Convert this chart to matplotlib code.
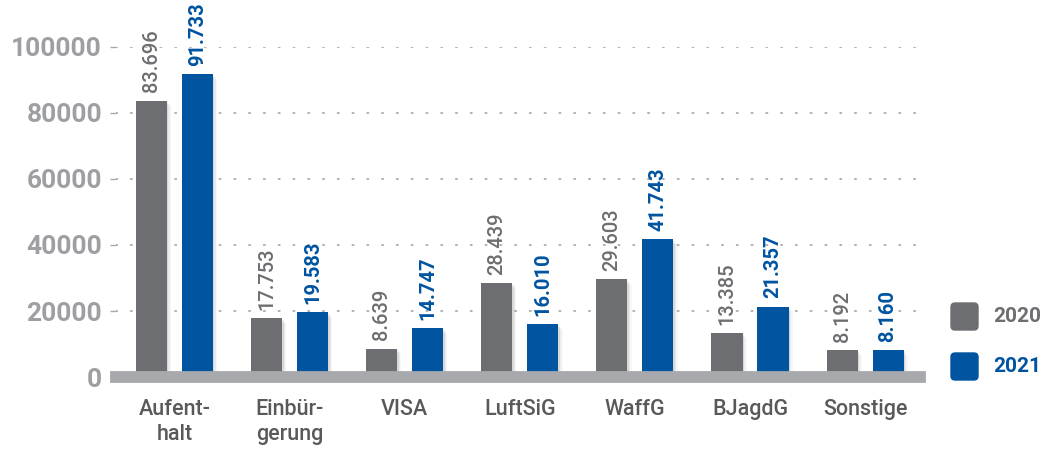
import numpy as np
import matplotlib.pyplot as plt
from matplotlib.patches import FancyBboxPatch, Rectangle

plt.rcParams['font.family'] = ['Roboto', 'DejaVu Sans']

categories = ['Aufent-\nhalt', 'Einbür-\ngerung', 'VISA', 'LuftSiG', 'WaffG', 'BJagdG', 'Sonstige']
values_2020 = [83696, 17753, 8639, 28439, 29603, 13385, 8192]
values_2021 = [91733, 19583, 14747, 16010, 41743, 21357, 8160]
labels_2020 = ['83.696', '17.753', '8.639', '28.439', '29.603', '13.385', '8.192']
labels_2021 = ['91.733', '19.583', '14.747', '16.010', '41.743', '21.357', '8.160']
yticks = [0, 20000, 40000, 60000, 80000, 100000]

gray = '#6d6e71'
blue = '#0054a0'
axis_gray = '#a7a9ac'

fig = plt.figure(figsize=(10.53, 4.51), dpi=100)
ax = fig.add_axes([0.110, 0.164, 0.764, 0.732])

x = np.arange(len(categories))
off = 0.2
w = 0.27

def shadow(ax, xs, heights):
    # faint shadow along the right side of each bar
    for xi, h in zip(xs, heights):
        for k, a in enumerate([0.07, 0.05, 0.03]):
            d = 0.012 * (k + 1)
            ax.add_patch(Rectangle((xi - w / 2 + d, 0), w, h - 500 * (k + 1),
                                   color='black', alpha=a, lw=0, zorder=1))

shadow(ax, x - off, values_2020)
shadow(ax, x + off, values_2021)
ax.bar(x - off, values_2020, w, color=gray, zorder=3)
ax.bar(x + off, values_2021, w, color=blue, zorder=3)

for xi, v, s in zip(x - off, values_2020, labels_2020):
    ax.annotate(s, (xi, v), xytext=(0, 6), textcoords='offset points',
                rotation=90, ha='center', va='bottom', fontsize=14.5,
                color=gray, fontweight='medium', annotation_clip=False)
for xi, v, s in zip(x + off, values_2021, labels_2021):
    ax.annotate(s, (xi, v), xytext=(0, 6), textcoords='offset points',
                rotation=90, ha='center', va='bottom', fontsize=14.5,
                color=blue, fontweight='bold', annotation_clip=False)

ax.set_xlim(-0.51, 6.48)
ax.set_ylim(0, 100000)
for yv in yticks[1:]:
    ax.axhline(yv, color='#b0b0b0', lw=1.4, ls=(0, (0.6, 7)), zorder=0,
               dash_capstyle='round')
ax.axhline(0, color=axis_gray, lw=8.5, zorder=4, clip_on=False)

ax.set_yticks(yticks)
ax.set_yticklabels([str(t) for t in yticks], fontsize=19, fontweight='bold',
                   color='#9d9fa2')
ax.tick_params(axis='y', length=4, width=1, color=axis_gray, pad=6)
ax.set_xticks(x)
ax.set_xticklabels(categories, fontsize=15.5, color='#58595b',
                   fontweight='medium', linespacing=1.25)
ax.tick_params(axis='x', length=0, pad=16)
for sp in ax.spines.values():
    sp.set_visible(False)

# legend boxes
for i, (lab, c) in enumerate([('2020', gray), ('2021', blue)]):
    yb = 451 - 330 - i * 50
    fig.add_artist(FancyBboxPatch((951, yb), 27, 27,
                                  boxstyle='round,pad=0,rounding_size=4',
                                  transform=None, color=c))
    fig.text(993 / 1053, (yb + 13.5) / 451, lab, fontsize=15,
             fontweight='bold', color=c, va='center', ha='left')

fig.savefig('out.png', dpi=100)
